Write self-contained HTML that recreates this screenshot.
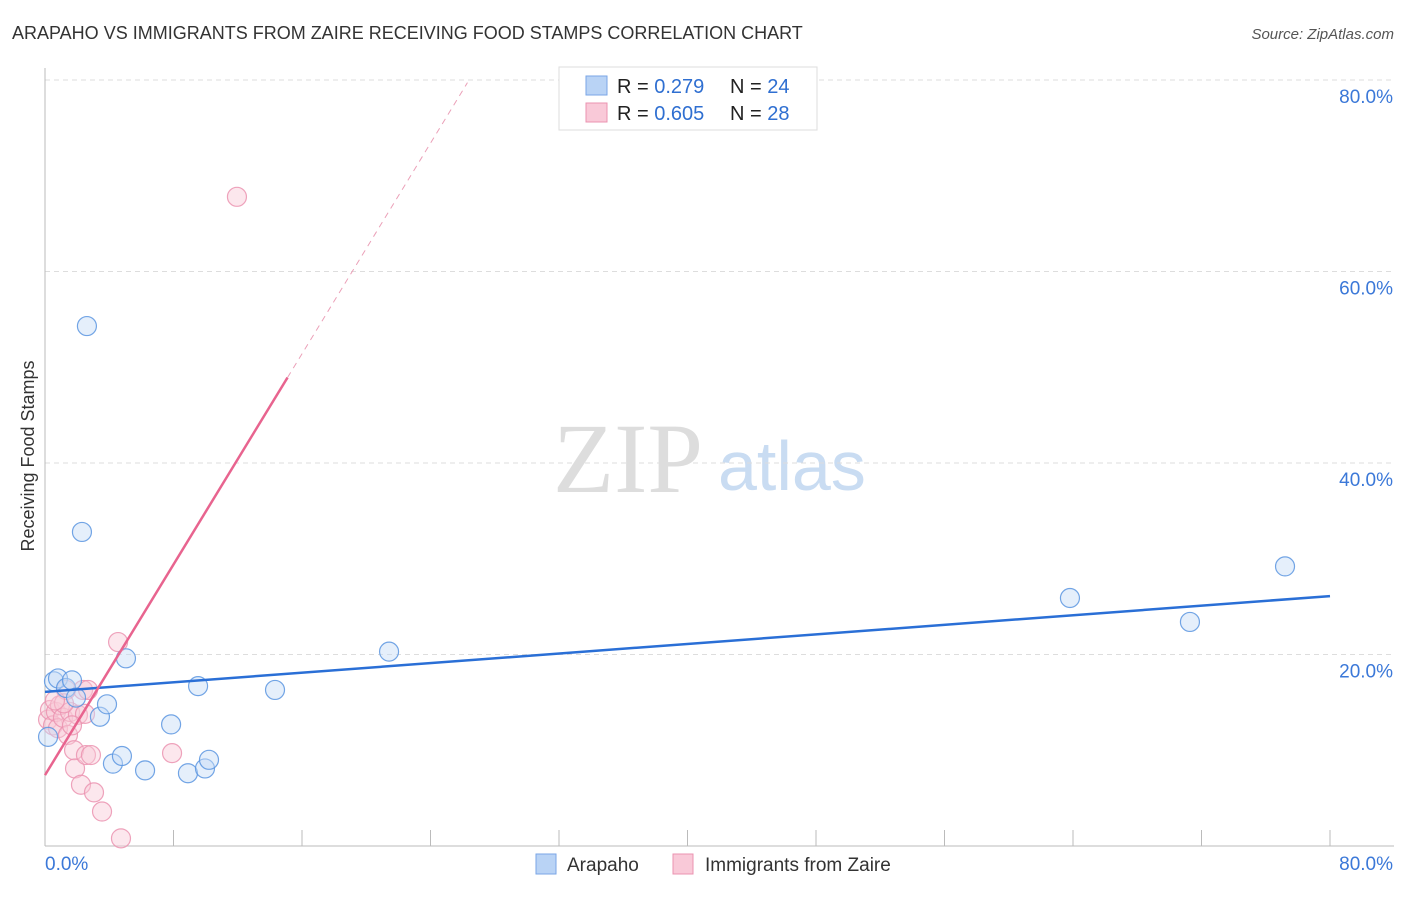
<!DOCTYPE html>
<html><head><meta charset="utf-8"><style>
body{margin:0;background:#fff;font-family:"Liberation Sans",sans-serif;}
svg text{font-family:"Liberation Sans",sans-serif;}
</style></head><body>
<svg id="chart" width="1406" height="892" xmlns="http://www.w3.org/2000/svg">
<text x="12" y="39" font-size="18" fill="#333">ARAPAHO VS IMMIGRANTS FROM ZAIRE RECEIVING FOOD STAMPS CORRELATION CHART</text>
<text x="1394" y="39" font-size="15" fill="#555" text-anchor="end" font-style="italic">Source: ZipAtlas.com</text>
<text x="553" y="492" font-size="100" fill="#ddd" style="font-family:'Liberation Serif',serif">ZIP</text>
<text x="718" y="490" font-size="70" fill="#c9dcf2">atlas</text>
<text x="34" y="456" font-size="18" fill="#333" text-anchor="middle" transform="rotate(-90 34 456)">Receiving Food Stamps</text>
<g id="grid"></g><g id="axes"></g><g id="marks"></g>
<g>
<rect x="559" y="67" width="258" height="63" fill="#fff" stroke="#ddd"/>
<rect x="586" y="76" width="21" height="19" fill="#b9d3f5" stroke="#7aa6e6"/>
<rect x="586" y="103" width="21" height="19" fill="#f9c9d8" stroke="#eb93b0"/>
<text x="617" y="93" font-size="20" fill="#222">R = <tspan fill="#2f6fd1"> 0.279</tspan></text>
<text x="730" y="93" font-size="20" fill="#222">N = <tspan fill="#2f6fd1">24</tspan></text>
<text x="617" y="120" font-size="20" fill="#222">R = <tspan fill="#2f6fd1">0.605</tspan></text>
<text x="730" y="120" font-size="20" fill="#222">N = <tspan fill="#2f6fd1">28</tspan></text>
</g>
<g>
<rect x="536" y="854" width="20" height="20" fill="#b9d3f5" stroke="#7aa6e6"/>
<text x="567" y="871" font-size="19" fill="#333">Arapaho</text>
<rect x="673" y="854" width="20" height="20" fill="#f9c9d8" stroke="#eb93b0"/>
<text x="705" y="871" font-size="19" fill="#333">Immigrants from Zaire</text>
</g>
</svg>
<script>
const yTicks=[20,40,60,80];
const xTickLabels=["0.0%","80.0%"];
const blueX=[0.19,0.56,0.81,1.31,1.68,1.93,2.61,2.30,3.42,3.86,4.23,4.79,5.04,6.23,7.85,8.90,9.53,9.96,10.21,14.32,21.42,63.81,71.28,77.2];
const blueY=[11.4,17.2,17.5,16.5,17.3,15.5,54.3,32.8,13.5,14.8,8.6,9.4,19.6,7.9,12.7,7.6,16.7,8.1,9.0,16.3,20.3,25.9,23.4,29.2];
const pinkX=[0.19,0.31,0.5,0.68,0.81,0.93,1.12,1.31,1.43,1.56,1.81,1.87,2.05,2.24,2.37,2.55,2.68,2.86,3.05,3.55,4.55,4.73,7.91,11.95,1.18,0.62,2.49,1.68];
const pinkY=[13.2,14.2,12.6,14.0,12.3,14.7,13.4,16.3,11.6,14.0,10.0,8.1,13.7,6.4,16.3,9.5,16.3,9.5,5.6,3.6,21.3,0.8,9.7,67.8,14.9,15.2,13.8,12.6];
const blueLine=[16.1,26.1];
const pinkLine=[7.4,2.75];
const NS="http://www.w3.org/2000/svg";
const X=v=>45+v*1285/80, Y=v=>846-v*9.575;
function mk(tag,at,parent){const e=document.createElementNS(NS,tag);for(const k in at)e.setAttribute(k,at[k]);parent.appendChild(e);return e;}
const grid=document.getElementById('grid'),axes=document.getElementById('axes'),marks=document.getElementById('marks');
yTicks.forEach(t=>{
 const l=mk('line',{x1:45,x2:1394,y1:Y(t),y2:Y(t),stroke:'#ddd','stroke-dasharray':'5,4'},grid);
 
 
 const tx=mk('text',{x:1393,y:Y(t)+23,'font-size':19,fill:'#3b78d8','text-anchor':'end'},grid);
 tx.textContent=t.toFixed(1)+'%';
 
 
});
const ya=mk('line',{x1:45,x2:45,y1:68,y2:846,stroke:'#bbb'},axes);


const xa=mk('line',{x1:45,x2:1394,y1:846,y2:846,stroke:'#bbb'},axes);


for(let i=0;i<=10;i++){const t=mk('line',{x1:X(i*8),x2:X(i*8),y1:830,y2:846,stroke:'#bbb'},axes);
 
 }
[[0,45,'start'],[80,1393,'end']].forEach((a,i)=>{const t=mk('text',{x:a[1],y:870,'font-size':19,fill:'#3b78d8','text-anchor':a[2]},axes);t.textContent=xTickLabels[i];
 
 });
function dots(xs,ys,fill,stroke,name){xs.forEach((x,i)=>{const c=mk('circle',{cx:X(x),cy:Y(ys[i]),r:9.5,fill:fill,'fill-opacity':0.45,stroke:stroke,'stroke-width':1.2,'stroke-opacity':0.85},marks);
 
 });}
dots(pinkX,pinkY,'#f9c9d8','#eb93b0','point-zaire');
dots(blueX,blueY,'#c5dbf6','#5b95e0','point-arapaho');
const bl=mk('line',{x1:X(0),y1:Y(blueLine[0]),x2:X(80),y2:Y(blueLine[1]),stroke:'#2a6fd6','stroke-width':2.5},marks);


const pe=15.1, pd=26.3;
const pl=mk('line',{x1:X(0),y1:Y(pinkLine[0]),x2:X(pe),y2:Y(pinkLine[0]+pinkLine[1]*pe),stroke:'#e8648f','stroke-width':2.5},marks);


const pd2=mk('line',{x1:X(pe),y1:Y(pinkLine[0]+pinkLine[1]*pe),x2:X(pd),y2:Y(pinkLine[0]+pinkLine[1]*pd),stroke:'#eba0b8','stroke-width':1,'stroke-dasharray':'6,5'},marks);


</script>
</body></html>
